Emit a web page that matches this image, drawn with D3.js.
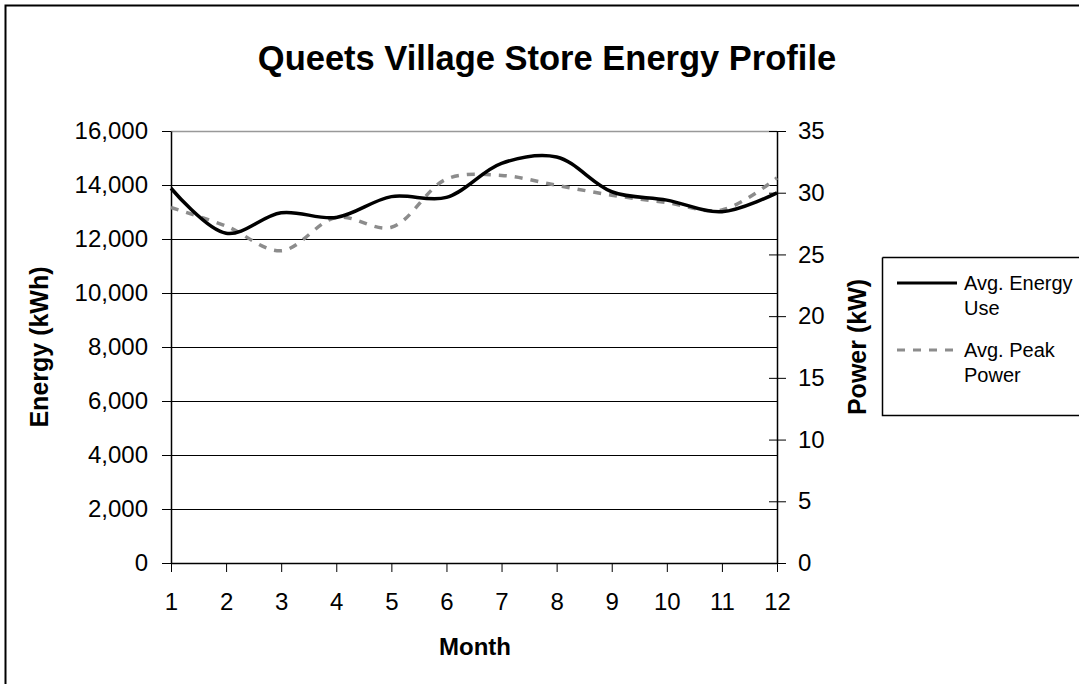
<!DOCTYPE html>
<html>
<head>
<meta charset="utf-8">
<script src="https://cdn.jsdelivr.net/npm/d3@7"></script>
<style>
  body { margin: 0; background: #fff; }
  svg { display: block; font-family: Arial, "Liberation Sans", sans-serif; }
</style>
</head>
<body>
<div id="chart"></div>
<script>
var months = [1, 2, 3, 4, 5, 6, 7, 8, 9, 10, 11, 12];
var energyUse = [13880, 12210, 12970, 12800, 13570, 13540, 14800, 15040, 13750, 13440, 13010, 13710];
var peakPower = [28.8, 27.3, 25.3, 28.0, 27.2, 31.1, 31.4, 30.6, 29.8, 29.2, 28.6, 31.2];
var energyTicks = [0, 2000, 4000, 6000, 8000, 10000, 12000, 14000, 16000];
var powerTicks = [0, 5, 10, 15, 20, 25, 30, 35];
var seriesNames = ["Avg. Energy Use", "Avg. Peak Power"];

var W = 1079, H = 684;
var svg = d3.select("#chart").append("svg")
    .attr("width", W)
    .attr("height", H);

// outer chart border (runs off right/bottom like the original)
svg.append("path")
    .attr("d", "M5.5," + (H + 2) + "V5.5H" + (W + 2))
    .attr("fill", "none")
    .attr("stroke", "#000")
    .attr("stroke-width", 2);

// plot area edges (don't call it "top", that's window.top)
var pLeft = 171, pRight = 777, pTop = 131, pBottom = 563;

var x = d3.scaleLinear().domain([1, 12]).range([pLeft, pRight]);
var yE = d3.scaleLinear().domain([0, 16000]).range([pBottom, pTop]);
var yP = d3.scaleLinear().domain([0, 35]).range([pBottom, pTop]);

var fmt = d3.format(",");

// gridlines
svg.append("g").selectAll("line")
    .data(energyTicks.slice(1, -1))
    .enter().append("line")
    .attr("x1", pLeft).attr("x2", pRight)
    .attr("y1", function(d) { return Math.round(yE(d)) + 0.5; })
    .attr("y2", function(d) { return Math.round(yE(d)) + 0.5; })
    .attr("stroke", "#000")
    .attr("stroke-width", 1);

// top border of plot area (gray)
svg.append("line")
    .attr("x1", pLeft).attr("x2", pRight)
    .attr("y1", pTop + 0.5).attr("y2", pTop + 0.5)
    .attr("stroke", "#999").attr("stroke-width", 1.5);

// axes
var xAxis = svg.append("g")
    .attr("transform", "translate(0," + pBottom + ")")
    .call(d3.axisBottom(x).tickValues(months).tickSize(9).tickPadding(21).tickSizeOuter(0));
var leftAxis = svg.append("g")
    .attr("transform", "translate(" + pLeft + ",0)")
    .call(d3.axisLeft(yE).tickValues(energyTicks).tickFormat(fmt).tickSize(9).tickPadding(14).tickSizeOuter(0));
var rightAxis = svg.append("g")
    .attr("transform", "translate(" + pRight + ",0)")
    .call(d3.axisRight(yP).tickValues(powerTicks).tickSize(9).tickPadding(12).tickSizeOuter(0));
rightAxis.selectAll(".tick line").attr("x1", -8);

[xAxis, leftAxis, rightAxis].forEach(function(a) {
    a.selectAll("path.domain").attr("stroke", "#000").attr("stroke-width", 1.5);
    a.selectAll(".tick line").attr("stroke", "#000");
    a.selectAll(".tick text")
        .attr("font-size", 24)
        .attr("font-family", "Arial, 'Liberation Sans', sans-serif")
        .attr("fill", "#000");
});
xAxis.selectAll(".tick text").attr("dy", "0.71em");

// lines
var energyLine = d3.line()
    .x(function(d, i) { return x(months[i]); })
    .y(function(d) { return yE(d); })
    .curve(d3.curveCatmullRom.alpha(0.5));
var powerLine = d3.line()
    .x(function(d, i) { return x(months[i]); })
    .y(function(d) { return yP(d); })
    .curve(d3.curveCatmullRom.alpha(0.5));

svg.append("path")
    .datum(peakPower)
    .attr("d", powerLine)
    .attr("fill", "none")
    .attr("stroke", "#8c8c8c")
    .attr("stroke-width", 3.5)
    .attr("stroke-dasharray", "8,8");

svg.append("path")
    .datum(energyUse)
    .attr("d", energyLine)
    .attr("fill", "none")
    .attr("stroke", "#000")
    .attr("stroke-width", 3.5);

// title & axis titles
svg.append("text")
    .attr("x", 547).attr("y", 70)
    .attr("text-anchor", "middle")
    .attr("font-size", 34.5).attr("font-weight", "bold")
    .text("Queets Village Store Energy Profile");

svg.append("text")
    .attr("transform", "translate(48,347)rotate(-90)")
    .attr("text-anchor", "middle")
    .attr("font-size", 25).attr("font-weight", "bold")
    .text("Energy (kWh)");

svg.append("text")
    .attr("transform", "translate(866,347)rotate(-90)")
    .attr("text-anchor", "middle")
    .attr("font-size", 25).attr("font-weight", "bold")
    .text("Power (kW)");

svg.append("text")
    .attr("x", 475).attr("y", 655)
    .attr("text-anchor", "middle")
    .attr("font-size", 24).attr("font-weight", "bold")
    .text("Month");

// legend
var lg = svg.append("g");
lg.append("path")
    .attr("d", "M882.5," + 257.5 + "V" + 415.5 + "H" + (W + 2) + "M882.5,257.5H" + (W + 2))
    .attr("fill", "none")
    .attr("stroke", "#000")
    .attr("stroke-width", 1.5);

var legendRows = [
    { name: seriesNames[0], y: 283, color: "#000", dash: null },
    { name: seriesNames[1], y: 350, color: "#8c8c8c", dash: "8,8" }
];
legendRows.forEach(function(r) {
    lg.append("line")
        .attr("x1", 897).attr("x2", 957)
        .attr("y1", r.y).attr("y2", r.y)
        .attr("stroke", r.color)
        .attr("stroke-width", 3)
        .attr("stroke-dasharray", r.dash);
    var words = r.name.split(" ");
    var t = lg.append("text")
        .attr("x", 964).attr("y", r.y)
        .attr("font-size", 20);
    t.append("tspan").attr("x", 964).attr("dy", "0.35em").text(words[0] + " " + words[1]);
    t.append("tspan").attr("x", 964).attr("dy", "1.25em").text(words[2]);
});
</script>
</body>
</html>
